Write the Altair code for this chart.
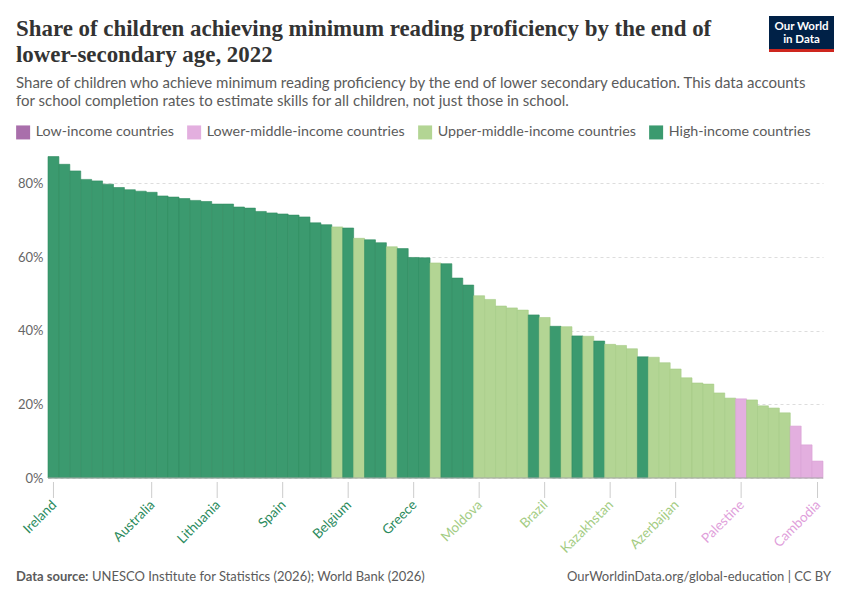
import altair as alt
import pandas as pd

countries = [
    "Ireland", "Japan", "Estonia", "South Korea", "Finland", "Canada", "Poland",
    "United Kingdom", "Denmark", "Australia", "New Zealand", "Czechia", "Latvia",
    "Sweden", "Italy", "Lithuania", "Portugal", "Germany", "Croatia", "Austria",
    "Slovenia", "Spain", "France", "Hungary", "Norway", "Netherlands", "Serbia",
    "Belgium", "Turkey", "Switzerland", "Malta", "Montenegro", "Israel", "Greece",
    "Slovakia", "Malaysia", "Chile", "Uruguay", "Cyprus", "Moldova", "Albania",
    "Mexico", "Costa Rica", "Thailand", "Bulgaria", "Brazil", "Romania", "Peru",
    "Qatar", "Colombia", "Saudi Arabia", "Kazakhstan", "Georgia", "Argentina",
    "Panama", "Indonesia", "North Macedonia", "Azerbaijan", "Paraguay",
    "Guatemala", "El Salvador", "Ecuador", "Dominican Republic", "Palestine",
    "Jamaica", "Kosovo", "Armenia", "South Africa", "Philippines", "Uzbekistan",
    "Cambodia",
]
values = [
    87.3, 85.2, 83.4, 81.1, 80.7, 79.8, 78.9, 78.3, 77.9, 77.6, 76.6, 76.3,
    75.9, 75.4, 75.1, 74.4, 74.4, 73.6, 73.3, 72.4, 72.0, 71.7, 71.4, 70.9,
    69.3, 68.8, 68.2, 67.9, 65.1, 64.7, 63.9, 62.8, 62.3, 59.9, 59.8, 58.4,
    58.2, 54.3, 52.4, 49.5, 48.5, 46.7, 46.2, 45.6, 44.3, 43.6, 41.2, 41.1,
    38.6, 38.5, 37.2, 36.3, 36.0, 35.1, 32.9, 32.8, 31.3, 29.6, 27.2, 25.8,
    25.5, 23.1, 21.7, 21.5, 21.2, 19.6, 19.0, 17.7, 14.1, 9.0, 4.6,
]
# H = high, U = upper-middle, L = lower-middle
income = list(
    "HHHHHHHHHHHHHHHHHHHHHHHHHH"  # 1-26
    "UHUHHUHHHUHHHUUUUUHUHUHUHUUUHUUUUUUUULUUUULLL"
)
group_names = {
    "H": "High-income countries",
    "U": "Upper-middle-income countries",
    "L": "Lower-middle-income countries",
}
groups = [
    "Low-income countries",
    "Lower-middle-income countries",
    "Upper-middle-income countries",
    "High-income countries",
]
fill_colors = ["#a96fab", "#e3afdf", "#b3d594", "#3b9a6f"]
stroke_colors = ["#9a5f9c", "#d9a0d5", "#a5cb85", "#2f8b60"]
label_colors = ["#a96fab", "#df9fdb", "#a3cc83", "#2a8a5c"]
labeled = [
    "Ireland", "Australia", "Lithuania", "Spain", "Belgium", "Greece",
    "Moldova", "Brazil", "Kazakhstan", "Azerbaijan", "Palestine", "Cambodia",
]
y_ticks = [0, 20, 40, 60, 80]

title_lines = [
    "Share of children achieving minimum reading proficiency by the end of",
    "lower-secondary age, 2022",
]
subtitle_lines = [
    "Share of children who achieve minimum reading proficiency by the end of lower secondary education. This data accounts",
    "for school completion rates to estimate skills for all children, not just those in school.",
]

W, H = 775, 324

df = pd.DataFrame({
    "country": countries,
    "value": values,
    "group": [group_names[c] for c in income],
})
lab = df[df["country"].isin(labeled)]

xenc = alt.X(
    "country:N",
    sort=None,
    scale=alt.Scale(domain=countries, paddingInner=0, paddingOuter=0),
    axis=None,
)

bars = alt.Chart(df).mark_bar(strokeWidth=0.6).encode(
    x=xenc,
    y=alt.Y(
        "value:Q",
        scale=alt.Scale(domain=[0, 88], nice=False),
        axis=alt.Axis(
            values=y_ticks,
            labelExpr="datum.value + '%'",
            title=None,
            domain=False,
            ticks=False,
            grid=True,
            gridDash=[3, 3],
            gridColor="#dddddd",
            labelFont="Lato",
            labelFontSize=13,
            labelColor="#666666",
            labelPadding=5,
        ),
    ),
    color=alt.Color(
        "group:N",
        scale=alt.Scale(domain=groups, range=fill_colors),
        legend=alt.Legend(
            orient="none",
            legendX=-32,
            legendY=-29,
            direction="horizontal",
            title=None,
            symbolType="square",
            symbolSize=196,
            symbolStrokeWidth=0,
            symbolOpacity=1,
            labelFont="Lato",
            labelFontSize=14.25,
            labelColor="#5b5b5b",
            labelLimit=0,
            columnPadding=13,
            labelOffset=5.5,
            padding=0,
        ),
    ),
    stroke=alt.Stroke(
        "group:N", scale=alt.Scale(domain=groups, range=stroke_colors), legend=None
    ),
)

baseline_rule = alt.Chart(pd.DataFrame({"a": [0]})).mark_rule(
    color="#aaaaaa", strokeWidth=1
).encode(x=alt.value(0), x2=alt.value(W), y=alt.value(H))

tick_rules = alt.Chart(lab).mark_rule(color="#cccccc", strokeWidth=1).encode(
    x=xenc, y=alt.value(H + 4), y2=alt.value(H + 20)
)

labels = alt.Chart(lab).mark_text(
    angle=315, align="right", baseline="top", font="Lato", fontSize=13.5,
    dx=-2.8, dy=-2.8,
).encode(
    x=xenc,
    y=alt.value(H + 20),
    text="country:N",
    color=alt.Color(
        "group:N", scale=alt.Scale(domain=groups, range=label_colors), legend=None
    ),
)


def txt(s, x, y, size, color, font="Lato", weight="normal", align="left"):
    return alt.Chart(pd.DataFrame({"t": [s]})).mark_text(
        align=align, baseline="alphabetic", font=font, fontSize=size,
        fontWeight=weight, color=color,
    ).encode(x=alt.value(x), y=alt.value(y), text="t:N")


texts = [
    txt(title_lines[0], -32, -118, 22.9, "#333333", font="Liberation Serif", weight="bold"),
    txt(title_lines[1], -32, -92, 22.9, "#333333", font="Liberation Serif", weight="bold"),
    txt(subtitle_lines[0], -32, -66, 15, "#5b5b5b"),
    txt(subtitle_lines[1], -32, -48, 15, "#5b5b5b"),
    txt("Data source:", -32, 427, 13, "#5b5b5b", weight="bold"),
    txt("UNESCO Institute for Statistics (2026); World Bank (2026)", 44, 427, 13, "#5b5b5b"),
    txt("OurWorldinData.org/global-education | CC BY", 783, 427, 13, "#5b5b5b", align="right"),
]

one = pd.DataFrame({"a": [0]})
logo_box = alt.Chart(one).mark_rect(color="#002147").encode(
    x=alt.value(721), x2=alt.value(786), y=alt.value(-138), y2=alt.value(-105)
)
logo_red = alt.Chart(one).mark_rect(color="#ce261e").encode(
    x=alt.value(721), x2=alt.value(786), y=alt.value(-105), y2=alt.value(-102)
)
logo_t1 = txt("Our World", 753.5, -124.5, 11.5, "white", weight="bold", align="center")
logo_t2 = txt("in Data", 753.5, -111, 11.5, "white", weight="bold", align="center")

chart = alt.layer(
    bars, baseline_rule, tick_rules, labels, *texts, logo_box, logo_red, logo_t1, logo_t2
).resolve_scale(color="independent").properties(
    width=W, height=H, padding={"left": 8, "top": 8, "right": 8, "bottom": 8}
).configure_view(stroke=None)

chart.save("out.html", embed_options={"renderer": "svg", "actions": False})
